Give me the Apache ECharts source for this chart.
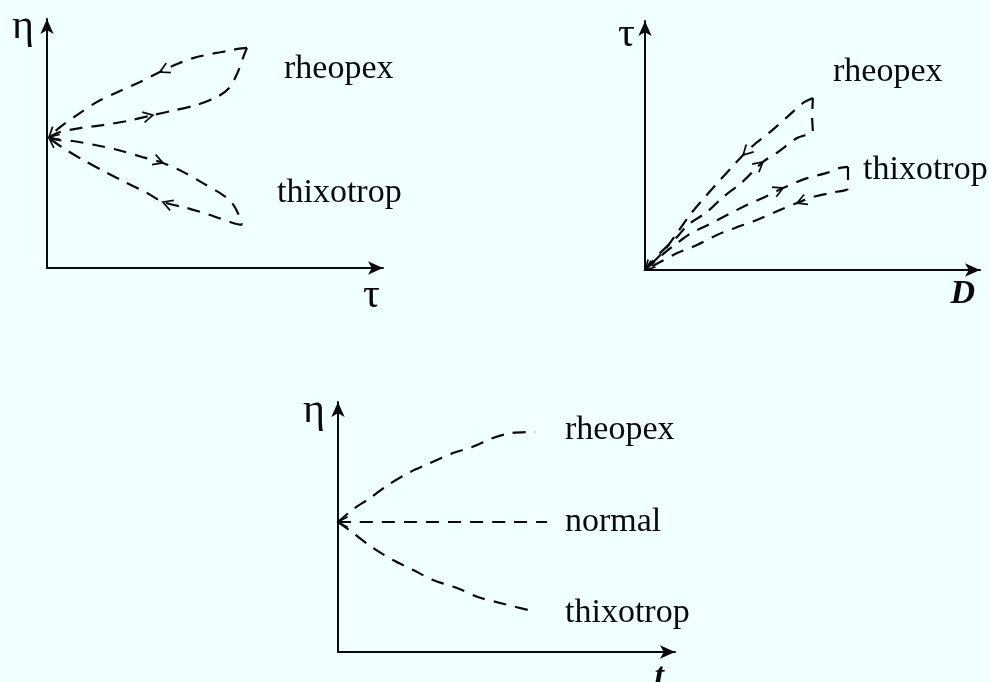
<!DOCTYPE html>
<html>
<head>
<meta charset="utf-8">
<script src="https://cdn.jsdelivr.net/npm/echarts@6/dist/echarts.min.js"></script>
<style>
  html, body { margin: 0; padding: 0; background: #F0FFFF; }
  #main { width: 989px; height: 682px; }
</style>
</head>
<body>
<div id="main"></div>
<script>
// Flow curves sketch: hysteresis loops of rheopectic and thixotropic fluids.
// All curves are in relative units (0..100 of each axis).

// Panel 1: viscosity η against shear stress τ (loading / unloading branches)
const etaTauRheopexUp   = [[0.6,52.6],[3.9,54.6],[9.8,56.2],[16.7,57.4],[23.8,59.0],[31.5,61.4],[37.2,63.1],[44.6,65.5],[50.6,68.7],[54.2,72.3],[56.8,78.7],[58.3,84.3],[59.5,88.4]];
const etaTauRheopexDown = [[59.5,88.4],[56.8,88.0],[53.6,87.1],[50.0,86.3],[43.5,84.3],[38.7,81.9],[33.6,78.7],[27.7,74.7],[21.1,70.7],[14.9,66.7],[8.9,61.4],[3.9,56.6],[0.6,52.6]];
const etaTauThixoUp     = [[0.6,52.6],[3.3,51.4],[7.7,51.0],[14.3,49.4],[21.1,47.4],[28.3,44.6],[34.5,42.2],[40.5,38.6],[46.4,34.1],[52.4,29.3],[55.1,26.1],[56.8,22.1],[58.0,17.3]];
const etaTauThixoDown   = [[58.0,17.3],[55.4,18.1],[48.5,21.3],[41.7,24.1],[34.5,26.5],[29.8,30.1],[23.2,34.5],[17.3,38.6],[10.7,43.4],[4.8,48.2],[0.6,52.2]];

// Panel 2: shear stress τ against shear rate D
const tauDRheopexUp   = [[0,0],[4.5,6.8],[9.6,13.3],[12.8,18.1],[18.5,23.3],[23.0,28.9],[29.0,35.3],[35.2,43.4],[39.7,47.4],[45.4,53.0],[50.1,55.8],[49.9,61.0],[50.1,69.1]];
const tauDRheopexDown = [[50.1,69.1],[47.2,67.1],[42.4,61.4],[37.3,55.4],[32.8,50.6],[29.3,46.2],[26.3,41.8],[22.4,36.1],[17.9,29.3],[13.4,22.1],[9.6,14.9],[5.4,7.2],[0,0]];
const tauDThixoUp     = [[0,0],[5.4,6.4],[9.6,10.8],[13.4,14.5],[18.8,18.1],[24.5,22.1],[30.4,26.1],[35.8,29.3],[41.2,32.9],[48.4,36.9],[54.3,39.0],[58.2,41.0],[60.6,41.4]];
const tauDThixoDown   = [[60.6,41.4],[60.6,32.9],[56.7,31.3],[50.1,29.3],[45.4,26.9],[40.3,24.1],[33.4,20.1],[26.9,16.9],[21.5,14.1],[15.5,10.0],[9.6,6.8],[4.5,3.2],[0,0]];

// Panel 3: viscosity η against time t at constant shear
const etaTimeRheopex = [[0,52],[4.2,56.8],[9.5,61.6],[14.8,66.8],[21.4,72],[27.3,75.6],[34.1,79.6],[39.8,82],[46,85.6],[51.6,87.6],[58.5,88]];
const etaTimeNormal  = [[0,52],[62,52]];
const etaTimeThixo   = [[0,52],[4.5,47.6],[10.4,41.6],[16.3,36.8],[22.3,32.8],[28.2,28.8],[35.3,25.6],[41.5,22],[48.1,19.6],[56.4,16.8]];

// Axis names and curve names
const axisNamesX = ['τ', 'D', 't'];
const axisNamesY = ['η', 'τ', 'η'];
const curveNames = ['rheopex', 'thixotrop', 'normal'];

// Direction arrows: [curve, point index, heading (+1 along the data order)]
const arrowsEtaTau = [[etaTauRheopexUp,5,1],[etaTauRheopexDown,6,1],[etaTauThixoUp,6,1],[etaTauThixoDown,4,1],[etaTauRheopexDown,12,1],[etaTauThixoDown,10,1]];
const arrowsTauD   = [[tauDRheopexUp,7,1],[tauDRheopexDown,5,1],[tauDThixoUp,8,1],[tauDThixoDown,4,1],[tauDRheopexDown,12,1],[tauDThixoDown,12,1]];
const arrowsEtaTime = [[etaTimeNormal,0,-1]];

const INK = '#0a0a0a';
const SERIF = '"Liberation Serif", "Times New Roman", serif';

const chart = echarts.init(document.getElementById('main'), null, { renderer: 'canvas' });

function xAxis(idx, name, nameStyle) {
  return {
    type: 'value', gridIndex: idx, min: 0, max: 100,
    name: name, nameLocation: 'end', nameGap: 0,
    nameTextStyle: Object.assign({ color: INK, fontFamily: SERIF, align: 'right', verticalAlign: 'top' }, nameStyle),
    axisLine: { show: true, onZero: false, symbol: ['none', 'arrow'], symbolSize: [10, 15], lineStyle: { color: INK, width: 2 } },
    axisTick: { show: false }, axisLabel: { show: false }, splitLine: { show: false }
  };
}
function yAxis(idx, name, gap, nameStyle) {
  return {
    type: 'value', gridIndex: idx, min: 0, max: 100,
    name: name, nameLocation: 'end', nameGap: gap,
    nameTextStyle: Object.assign({ color: INK, fontFamily: SERIF, align: 'right', verticalAlign: 'middle' }, nameStyle),
    axisLine: { show: true, onZero: false, symbol: ['none', 'arrow'], symbolSize: [10, 15], lineStyle: { color: INK, width: 2 } },
    axisTick: { show: false }, axisLabel: { show: false }, splitLine: { show: false }
  };
}

function curve(idx, data) {
  return {
    type: 'line', xAxisIndex: idx, yAxisIndex: idx, data: data,
    smooth: 0.3, symbol: 'none', silent: true,
    lineStyle: { color: INK, width: 2.2, type: [13, 9] }
  };
}

function arrows(idx, specs) {
  return {
    type: 'custom', xAxisIndex: idx, yAxisIndex: idx, silent: true, z: 5,
    data: specs.map(s => s[0][s[1]]),
    renderItem: function (params, api) {
      const [pts, i, heading] = specs[params.dataIndex];
      const p = api.coord(pts[i]);
      const a = api.coord(pts[Math.max(0, i - 1)]);
      const b = api.coord(pts[Math.min(pts.length - 1, i + 1)]);
      let ang = Math.atan2(b[1] - a[1], b[0] - a[0]);
      if (heading < 0) ang += Math.PI;
      const L = 11, w = 0.5;
      return {
        type: 'polyline',
        shape: { points: [
          [p[0] - L * Math.cos(ang - w), p[1] - L * Math.sin(ang - w)],
          p,
          [p[0] - L * Math.cos(ang + w), p[1] - L * Math.sin(ang + w)]
        ] },
        style: { stroke: INK, fill: null, lineWidth: 1.7 }
      };
    }
  };
}

function label(text, left, y) {
  return {
    type: 'text', left: left, top: y - 17,
    style: { text: text, font: '34px ' + SERIF, fill: INK }
  };
}

chart.setOption({
  backgroundColor: '#F0FFFF',
  animation: false,
  grid: [
    { left: 47,  top: 19,  width: 336, height: 249, outerBoundsMode: 'none', containLabel: false },
    { left: 645, top: 21,  width: 335, height: 249, outerBoundsMode: 'none', containLabel: false },
    { left: 338, top: 402, width: 337, height: 250, outerBoundsMode: 'none', containLabel: false }
  ],
  xAxis: [
    xAxis(0, axisNamesX[0], { fontSize: 42, padding: [7, 3, 0, 0] }),
    xAxis(1, axisNamesX[1], { fontSize: 34, fontWeight: 'bold', fontStyle: 'italic', padding: [7, 5, 0, 0] }),
    xAxis(2, axisNamesX[2], { fontSize: 34, fontWeight: 'bold', fontStyle: 'italic', padding: [8, 11, 0, 0] })
  ],
  yAxis: [
    yAxis(0, axisNamesY[0], -8,  { fontSize: 42, padding: [0, 13, 0, 0] }),
    yAxis(1, axisNamesY[1], -14, { fontSize: 42, padding: [0, 10, 0, 0] }),
    yAxis(2, axisNamesY[2], -9,  { fontSize: 42, padding: [0, 13, 0, 0] })
  ],
  series: [
    curve(0, etaTauRheopexUp), curve(0, etaTauRheopexDown),
    curve(0, etaTauThixoUp), curve(0, etaTauThixoDown),
    curve(1, tauDRheopexUp), curve(1, tauDRheopexDown),
    curve(1, tauDThixoUp), curve(1, tauDThixoDown),
    curve(2, etaTimeRheopex), curve(2, etaTimeNormal), curve(2, etaTimeThixo),
    arrows(0, arrowsEtaTau), arrows(1, arrowsTauD), arrows(2, arrowsEtaTime)
  ],
  graphic: [
    label(curveNames[0], 284, 69),
    label(curveNames[1], 277, 193),
    label(curveNames[0], 833, 72),
    label(curveNames[1], 863, 170),
    label(curveNames[0], 565, 430),
    label(curveNames[2], 565, 522),
    label(curveNames[1], 565, 613)
  ]
});
</script>
</body>
</html>
